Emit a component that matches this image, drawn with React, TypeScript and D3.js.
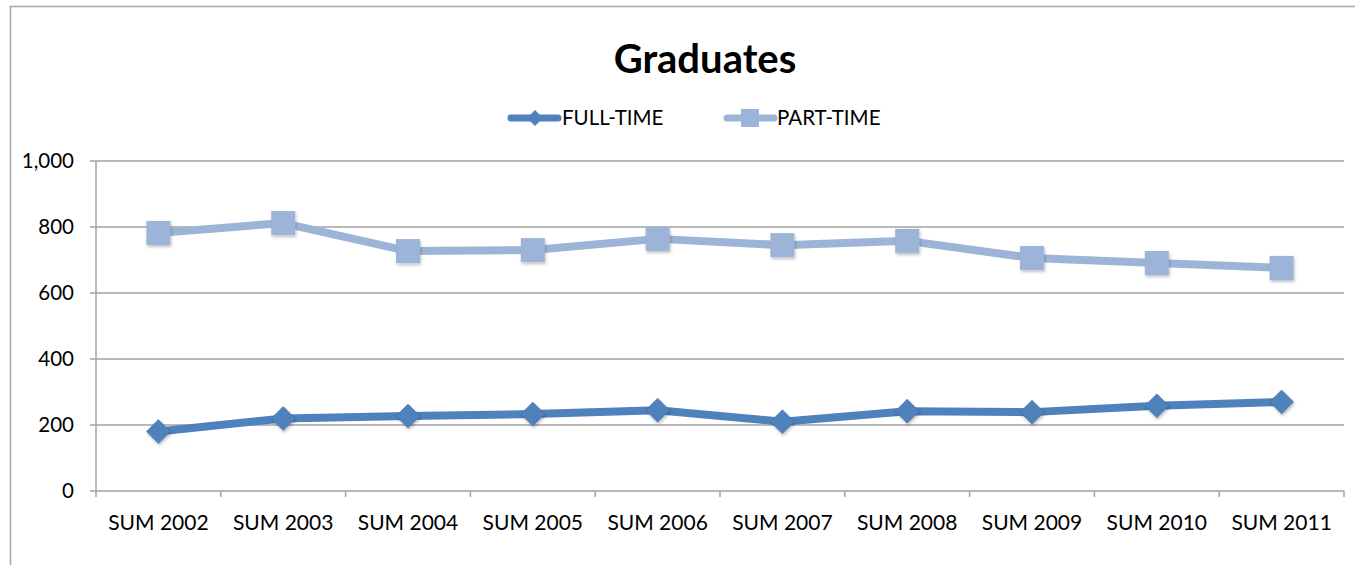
import * as d3 from 'd3';
import React from 'react';

const categories = ['SUM 2002', 'SUM 2003', 'SUM 2004', 'SUM 2005', 'SUM 2006', 'SUM 2007', 'SUM 2008', 'SUM 2009', 'SUM 2010', 'SUM 2011'];
const fullTime = [180, 220, 227, 233, 245, 210, 242, 239, 258, 270];
const partTime = [782, 812, 727, 730, 764, 745, 758, 706, 691, 676];
const yTicks = [0, 200, 400, 600, 800, 1000];

const width = 1355;
const height = 565;
const margin = { top: 161, bottom: 74, left: 96, right: 11 };
const innerWidth = width - margin.left - margin.right;
const innerHeight = height - margin.top - margin.bottom;

const fullColor = '#4f81bd';
const partColor = '#9db4d9';
const gridColor = '#a3a3a3';
const font = 'Lato, Carlito, "Open Sans", sans-serif';

const App = () => {
    const xScale = d3.scaleBand().domain(categories).range([0, innerWidth]);
    const yScale = d3.scaleLinear().domain([0, 1000]).range([innerHeight, 0]);
    const cx = (i: number) => xScale(categories[i])! + xScale.bandwidth() / 2;

    const line = d3
        .line<number>()
        .x((d, i) => cx(i))
        .y((d) => yScale(d));

    const diamond = (x: number, y: number, r: number) => `M${x},${y - r}L${x + r},${y}L${x},${y + r}L${x - r},${y}Z`;

    return (
        <svg width={width} height={height} style={{ position: 'absolute', left: 0, top: 0, background: '#fff' }}>
            <defs>
                <filter id="shadow" x="-50%" y="-50%" width="200%" height="200%">
                    <feDropShadow dx="1" dy="2" stdDeviation="1.5" floodColor="#000" floodOpacity="0.25" />
                </filter>
            </defs>
            {/* outer chart border */}
            <path d={`M10.5,${height}V6.5H${width}`} fill="none" stroke="#a6a6a6" strokeWidth={1.5} />

            <text x={705} y={73} textAnchor="middle" fontFamily={font} fontWeight="bold" fontSize={40} fill="#000">
                Graduates
            </text>

            {/* legend */}
            <g fontFamily={font} fontSize={20.5} fill="#000">
                <line x1={511} x2={558} y1={118} y2={118} stroke={fullColor} strokeWidth={7} strokeLinecap="round" />
                <path d={diamond(535, 118, 8)} fill={fullColor} />
                <text x={562} y={125}>FULL-TIME</text>
                <line x1={727} x2={774} y1={118} y2={118} stroke={partColor} strokeWidth={7} strokeLinecap="round" />
                <rect x={741} y={109} width={18} height={18} fill={partColor} />
                <text x={777} y={125}>PART-TIME</text>
            </g>

            <g transform={`translate(${margin.left},${margin.top})`}>
                {yTicks.map((t) => (
                    <g key={t}>
                        <line x1={-6} x2={innerWidth} y1={yScale(t)} y2={yScale(t)} stroke={gridColor} strokeWidth={1.5} />
                        <text x={-22} y={yScale(t) + 7} textAnchor="end" fontFamily={font} fontSize={20.5} fill="#000">
                            {d3.format(',')(t)}
                        </text>
                    </g>
                ))}
                <line x1={0} x2={0} y1={0} y2={innerHeight + 6} stroke={gridColor} strokeWidth={1.5} />
                {categories.map((c, i) => (
                    <g key={c}>
                        <line
                            x1={xScale(c)! + xScale.bandwidth()}
                            x2={xScale(c)! + xScale.bandwidth()}
                            y1={innerHeight}
                            y2={innerHeight + 6}
                            stroke={gridColor}
                            strokeWidth={1.5}
                        />
                        <text x={cx(i)} y={innerHeight + 39} textAnchor="middle" fontFamily={font} fontSize={21} fill="#000">
                            {c}
                        </text>
                    </g>
                ))}

                <path d={line(partTime)!} fill="none" stroke={partColor} strokeWidth={8} strokeLinejoin="round" />
                {partTime.map((v, i) => (
                    <rect key={i} x={cx(i) - 12} y={yScale(v) - 12} width={24} height={24} fill={partColor} filter="url(#shadow)" />
                ))}

                <path d={line(fullTime)!} fill="none" stroke={fullColor} strokeWidth={8} strokeLinejoin="round" />
                {fullTime.map((v, i) => (
                    <path key={i} d={diamond(cx(i), yScale(v), 12)} fill={fullColor} stroke="#3d6a9e" strokeWidth={0.5} filter="url(#shadow)" />
                ))}
            </g>
        </svg>
    );
};

export default App;
